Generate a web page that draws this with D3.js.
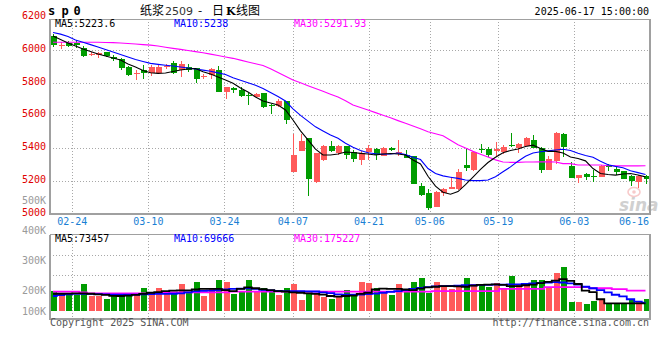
<!DOCTYPE html>
<html><head><meta charset="utf-8">
<script src="https://cdn.jsdelivr.net/npm/d3@7/dist/d3.min.js"></script>
<style>body{margin:0;background:#fff}svg{display:block}</style>
</head><body><svg id="c" width="660" height="360"></svg>
<script>
const dates = ["02-19","02-20","02-21","02-24","02-25","02-26","02-27","02-28","03-03","03-04","03-05","03-06","03-07","03-10","03-11","03-12","03-13","03-14","03-17","03-18","03-19","03-20","03-21","03-24","03-25","03-26","03-27","03-28","03-31","04-01","04-02","04-03","04-07","04-08","04-09","04-10","04-11","04-14","04-15","04-16","04-17","04-18","04-21","04-22","04-23","04-24","04-25","04-28","04-29","04-30","05-06","05-07","05-08","05-09","05-12","05-13","05-14","05-15","05-16","05-19","05-20","05-21","05-22","05-23","05-26","05-27","05-28","05-29","05-30","06-03","06-04","06-05","06-06","06-09","06-10","06-11","06-12","06-13","06-16","06-17"];
const open = [6087,6028,6045,6042,6010,5972,5968,5985,5957,5943,5898,5855,5877,5857,5862,5898,5920,5880,5895,5890,5838,5845,5880,5745,5770,5757,5722,5710,5735,5662,5655,5690,5256,5383,5460,5195,5330,5415,5370,5410,5375,5330,5375,5395,5350,5400,5373,5360,5350,5168,5127,5042,5128,5148,5148,5295,5268,5395,5395,5384,5378,5421,5399,5413,5450,5399,5266,5323,5486,5290,5215,5242,5231,5225,5297,5270,5262,5229,5195,5229];
const high = [6095,6050,6055,6060,6025,5990,5990,5990,5968,5950,5902,5880,5910,5910,5908,5915,5935,5930,5912,5890,5855,5892,5900,5776,5776,5772,5740,5740,5740,5672,5703,5690,5484,5488,5460,5370,5422,5445,5422,5415,5390,5380,5422,5400,5405,5405,5450,5390,5350,5188,5148,5135,5155,5221,5270,5400,5380,5425,5405,5435,5418,5490,5429,5466,5480,5409,5352,5500,5490,5317,5235,5246,5266,5297,5303,5286,5262,5235,5235,5235];
const low = [6020,6005,6020,6010,5955,5962,5950,5955,5935,5880,5840,5815,5825,5842,5855,5885,5855,5835,5865,5800,5820,5823,5745,5698,5740,5712,5662,5704,5645,5610,5650,5550,5256,5383,5105,5185,5320,5375,5360,5335,5315,5295,5325,5325,5350,5380,5350,5340,5180,5110,5021,5040,5110,5148,5145,5262,5262,5368,5347,5352,5362,5409,5368,5413,5399,5250,5266,5303,5347,5215,5188,5205,5195,5221,5262,5235,5209,5168,5154,5178];
const close = [6031,6032,6025,6030,5963,5978,5984,5962,5943,5887,5850,5859,5857,5899,5895,5905,5860,5915,5880,5825,5842,5885,5745,5776,5757,5718,5718,5730,5650,5658,5690,5570,5358,5445,5210,5370,5410,5385,5410,5360,5335,5370,5400,5355,5400,5387,5377,5340,5180,5113,5032,5133,5148,5160,5256,5276,5378,5393,5360,5393,5409,5418,5425,5460,5399,5266,5331,5494,5409,5219,5235,5225,5228,5290,5283,5256,5209,5199,5229,5209];
const ma5 = [6086,6064,6043,6024,6006,5991,5975,5963,5951,5939,5914,5896,5875,5861,5857,5859,5868,5878,5884,5887,5867,5853,5835,5816,5796,5768,5743,5713,5688,5676,5664,5633,5572,5505,5450,5394,5358,5358,5364,5376,5373,5368,5364,5358,5364,5367,5364,5358,5327,5303,5228,5167,5130,5118,5134,5176,5222,5270,5312,5344,5372,5385,5395,5410,5418,5397,5380,5380,5370,5346,5336,5322,5275,5245,5239,5235,5242,5245,5235,5224];
const ma10 = [6107,6097,6082,6061,6047,6033,6018,6003,5988,5972,5957,5942,5930,5918,5912,5907,5902,5896,5890,5884,5877,5870,5860,5850,5830,5815,5800,5785,5765,5740,5715,5688,5640,5600,5565,5530,5505,5480,5460,5430,5405,5385,5372,5365,5362,5364,5370,5360,5344,5330,5275,5245,5230,5222,5215,5205,5201,5201,5205,5225,5255,5285,5320,5350,5370,5378,5383,5388,5393,5385,5368,5355,5344,5320,5298,5288,5280,5262,5250,5238];
const ma30 = [6047,6047,6047,6047,6047,6047,6047,6046,6045,6043,6040,6037,6033,6030,6024,6017,6010,6004,5997,5990,5983,5975,5966,5957,5949,5938,5927,5916,5905,5885,5862,5840,5817,5800,5782,5765,5748,5730,5712,5690,5664,5648,5633,5617,5601,5585,5568,5552,5535,5518,5500,5488,5475,5448,5420,5400,5380,5362,5345,5328,5315,5313,5313,5315,5315,5316,5316,5315,5305,5305,5297,5297,5297,5297,5292,5292,5291,5291,5291,5292];
const volume = [198,184,179,179,222,175,175,159,184,184,184,179,209,192,209,195,195,222,192,229,172,209,235,229,184,198,235,192,209,198,179,209,222,154,189,189,170,159,170,202,179,229,225,209,198,179,222,192,229,242,189,229,219,206,219,242,222,222,212,225,206,248,219,219,235,235,212,258,278,145,145,135,150,154,138,138,138,154,150,159];
const volMa5 = [184,185,186,187,187,185,182,179,175,174,176,179,184,190,193,198,200,201,201,204,206,206,206,202,198,206,211,208,205,202,198,196,192,190,187,184,181,174,171,174,176,184,190,204,207,206,206,204,202,207,211,213,215,215,214,213,217,219,220,221,219,215,215,218,220,225,229,233,238,232,222,200,193,158,138,138,138,138,138,138];
const volMa10 = [174,178,182,184,184,184,183,182,181,180,180,181,182,183,184,184,185,187,192,197,199,200,202,204,206,207,208,206,203,201,199,198,198,198,197,196,192,188,182,180,180,181,183,186,190,194,198,202,206,209,212,214,215,216,217,218,218,219,219,220,220,221,221,222,224,226,227,228,227,224,220,213,208,202,192,180,172,158,146,141];
const volMa30 = [195,195,195,195,192,187,187,187,187,187,187,187,187,187,187,190,192,192,192,192,192,192,192,192,195,195,195,195,195,195,195,195,195,195,195,195,195,195,195,195,195,195,195,195,195,195,195,195,195,195,195,198,198,198,198,198,198,198,198,198,206,206,206,206,206,206,212,212,212,212,212,212,208,208,208,205,205,200,200,200];
const priceTicks = [6200,6000,5800,5600,5400,5200,5000];
const volTicks = [100,200,300,400,500];
const dateTicks = ["02-24","03-10","03-24","04-07","04-21","05-06","05-19","06-03","06-16"];
const gridDates = ["02-24","03-10","03-24","04-07","04-21","05-06","05-19","06-03"];
const priceLegend = ["MA5:5223.6","MA10:5238","MA30:5291.93"];
const volLegend = ["MA5:73457","MA10:69666","MA30:175227"];

const svg = d3.select('#c');
const mono = "'DejaVu Sans Mono', monospace";
const RED = '#ff5a5a', GREEN = '#009c00', GRID = '#a8a8a8', BORDER = '#a0a0a0';
const L = 50, R = 650, PT = 19, PB = 213.5, VT = 234.5, VB = 318.5;

const xC = d3.scalePoint().domain(dates).range([53, 645.5]);
const xG = d3.scalePoint().domain(dates).range([49.5, 650.4]);
const yP = d3.scaleLinear().domain([5000, 6000]).range([PB, 50]);
const yV = d3.scaleLinear().domain(volTicks).range([311, 290.7, 260.3, 230.3, 200.3]);
const px = v => Math.round(v) + 0.5;

svg.append('defs').append('clipPath').attr('id','pc').append('rect')
  .attr('x', L).attr('y', PT).attr('width', R - L).attr('height', PB - PT);

// grid
const g = svg.append('g').attr('stroke', GRID).attr('stroke-dasharray', '1,2').attr('shape-rendering','crispEdges');
priceTicks.filter(t => t > 5000 && t < 6200).forEach(t =>
  g.append('line').attr('x1', L).attr('x2', R).attr('y1', px(yP(t))).attr('y2', px(yP(t))));
gridDates.forEach(d => {
  g.append('line').attr('x1', px(xG(d))).attr('x2', px(xG(d))).attr('y1', PT).attr('y2', PB);
  g.append('line').attr('x1', px(xG(d))).attr('x2', px(xG(d))).attr('y1', VT).attr('y2', VB);
});
[1, 2].forEach(k => g.append('line').attr('x1', L).attr('x2', R)
  .attr('y1', VT + 1 + 20 * k).attr('y2', VT + 1 + 20 * k));

// candles
const cg = svg.append('g').attr('clip-path', 'url(#pc)').attr('shape-rendering','crispEdges');
dates.forEach((d, i) => {
  const up = close[i] >= open[i];
  const col = up ? RED : GREEN;
  const cx = Math.round(xC(d));
  cg.append('line').attr('x1', cx + 0.5).attr('x2', cx + 0.5)
    .attr('y1', yP(high[i])).attr('y2', yP(low[i])).attr('stroke', col);
  const yt = yP(Math.max(open[i], close[i])), yb = yP(Math.min(open[i], close[i]));
  cg.append('rect').attr('x', cx - 2).attr('width', 6)
    .attr('y', yt).attr('height', Math.max(1, yb - yt)).attr('fill', col);
});

// MA lines price
const lineP = d3.line().x((v, i) => xC(dates[i])).y(v => yP(v));
const mg = svg.append('g').attr('clip-path', 'url(#pc)').attr('fill', 'none');
[[ma30, '#ff00ff'], [ma10, '#0000ff'], [ma5, '#000000']].forEach(([arr, c]) =>
  mg.append('path').attr('d', lineP(arr)).attr('stroke', c).attr('stroke-width', 1.1));

// volume bars
const vg = svg.append('g').attr('shape-rendering','crispEdges');
dates.forEach((d, i) => {
  const col = close[i] >= open[i] ? RED : GREEN;
  const cx = Math.round(xC(d));
  vg.append('rect').attr('x', cx - 2).attr('width', 6)
    .attr('y', yV(volume[i])).attr('height', yV(100) - yV(volume[i])).attr('fill', col);
});
const lineV = d3.line().x((v, i) => xC(dates[i])).y(v => yV(v)).curve(d3.curveStep);
[[volMa30, '#ff00ff'], [volMa10, '#0000ff'], [volMa5, '#000000']].forEach(([arr, c]) =>
  svg.append('path').attr('d', lineV(arr)).attr('fill', 'none').attr('stroke', c).attr('stroke-width', 1.8));

// watermark
const wm = svg.append('g').attr('opacity', 0.55);
wm.append('ellipse').attr('cx', 634).attr('cy', 192).attr('rx', 6).attr('ry', 4.5)
  .attr('fill', 'none').attr('stroke', '#f2a0a0').attr('stroke-width', 1.6);
wm.append('circle').attr('cx', 634).attr('cy', 192).attr('r', 1.8).attr('fill', '#f2a0a0');
wm.append('text').attr('x', 619).attr('y', 211).text('sina')
  .attr('font-family', "'DejaVu Sans', sans-serif").attr('font-size', 17)
  .attr('font-weight', 'bold').attr('font-style', 'italic').attr('fill', '#aaaaaa');

// borders
const b = svg.append('g').attr('stroke', BORDER).attr('shape-rendering','crispEdges');
b.append('line').attr('x1', L).attr('x2', R + 1).attr('y1', PT + 0.5).attr('y2', PT + 0.5);
b.append('line').attr('x1', L).attr('x2', L).attr('y1', PT).attr('y2', PB + 1).attr('stroke-width', 2);
b.append('line').attr('x1', R).attr('x2', R).attr('y1', PT).attr('y2', PB + 1).attr('stroke-width', 2);
b.append('line').attr('x1', L - 1).attr('x2', R + 1).attr('y1', PB).attr('y2', PB).attr('stroke-width', 2);
b.append('line').attr('x1', L).attr('x2', R + 1).attr('y1', VT).attr('y2', VT);
b.append('line').attr('x1', L).attr('x2', L).attr('y1', VT).attr('y2', VB + 1).attr('stroke-width', 2);
b.append('line').attr('x1', R).attr('x2', R).attr('y1', VT).attr('y2', VB + 1).attr('stroke-width', 2);
b.append('line').attr('x1', L - 1).attr('x2', R + 1).attr('y1', VB).attr('y2', VB).attr('stroke-width', 2);

// text helper
const txt = (x, y, s, opt = {}) => svg.append('text').attr('x', x).attr('y', y).text(s)
  .attr('font-family', opt.ff || mono).attr('font-size', opt.fs || 10)
  .attr('fill', opt.fill || '#000').attr('text-anchor', opt.anchor || 'start')
  .attr('font-weight', opt.fw || 'normal');

// price axis labels
priceTicks.forEach(t => txt(46, yP(t) + 2, d3.format('d')(t), {fill: '#e00000', anchor: 'end'}));
// volume axis labels
volTicks.slice().reverse().forEach(v => txt(46, yV(v) + 3.6, v + 'K', {fill: '#9a9a9a', anchor: 'end'}));
// date labels
dateTicks.forEach(d => txt(Math.min(xG(d), 634), 225, d, {fill: '#1a7fd4', anchor: 'middle'}));

// legends
const legX = [55, 174, 294], legC = ['#000000', '#0000ff', '#ff00ff'];
priceLegend.forEach((s, i) => txt(legX[i], 27, s, {fill: legC[i]}));
volLegend.forEach((s, i) => txt(legX[i], 242, s, {fill: legC[i]}));

// title
const t1 = svg.append('text').attr('y', 15).attr('font-family', mono).attr('font-size', 12)
  .attr('font-weight', 'bold').attr('fill', '#000');
['s', 'p', '0'].forEach((ch, i) => t1.append('tspan').attr('x', [48, 61.5, 73.5][i]).text(ch));
const t2 = svg.append('text').attr('y', 15).attr('font-size', 12).attr('fill', '#000')
  .attr('font-family', "'Noto Sans CJK SC', sans-serif");
t2.append('tspan').attr('x', 140).text('纸浆');
t2.append('tspan').attr('x', 165).attr('font-size', 11).attr('fill', '#333')
  .attr('font-family', "'DejaVu Sans', sans-serif").text('2509');
t2.append('tspan').attr('x', 198).text('-');
t2.append('tspan').attr('x', 212).text('日');
t2.append('tspan').attr('x', 226).attr('font-weight', 'bold').attr('font-family', "'DejaVu Serif', serif").attr('font-size', 11).text('K');
t2.append('tspan').attr('x', 236).text('线图');
txt(649, 15, '2025-06-17 15:00:00', {anchor: 'end'});

// footer
txt(50, 326, 'Copyright 2025 SINA.COM', {fill: '#555'});
txt(649, 326, 'http://finance.sina.com.cn', {fill: '#555', anchor: 'end'});
</script></body></html>
